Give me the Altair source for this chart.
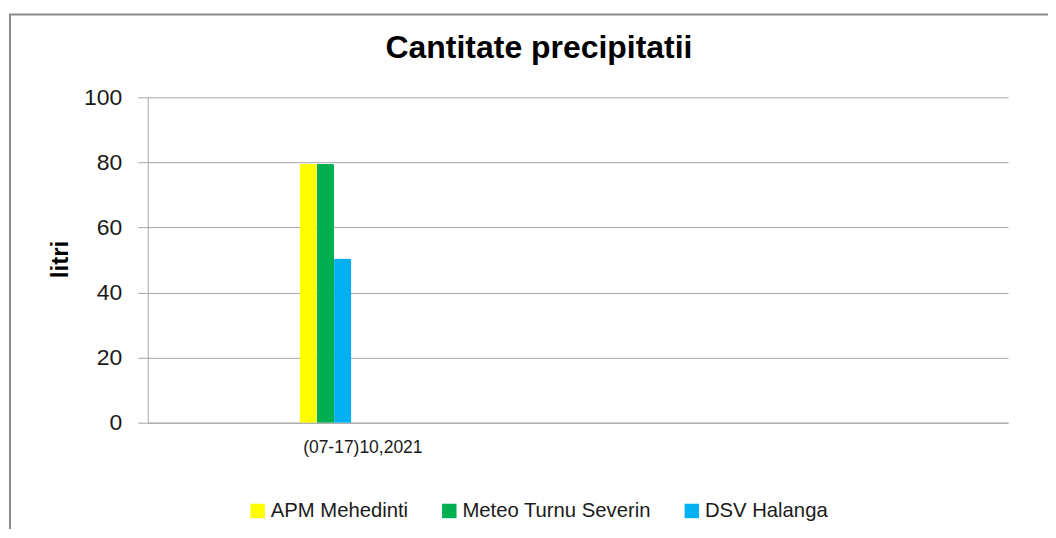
import altair as alt
import pandas as pd

categories = ["(07-17)10,2021", " "]
series = ["APM Mehedinti", "Meteo Turnu Severin", "DSV Halanga"]
values = [79.6, 79.6, 50.5]
colors = ["#FFFF00", "#00B050", "#00B0F0"]

df = pd.DataFrame({
    "perioada": [categories[0]] * len(series),
    "statie": series,
    "litri": values,
})

FONT = "Liberation Sans"

frame = alt.Chart(alt.Data(values=[{"a": 1}])).mark_rect(
    fill=None, stroke="#8c8c8c", strokeWidth=2
).encode(
    x=alt.value(-138), x2=alt.value(1000),
    y=alt.value(-83), y2=alt.value(700),
)

bars = alt.Chart(df).mark_bar(cornerRadiusTopLeft=2, cornerRadiusTopRight=2).encode(
    x=alt.X("perioada:N",
            scale=alt.Scale(domain=categories, paddingInner=0, paddingOuter=0),
            axis=alt.Axis(title=None, labelAngle=0, ticks=False, tickSize=0,
                          labelPadding=16, labelFontSize=17.5, labelFont=FONT,
                          labelColor="#1a1a1a", domainColor="#a6a6a6", grid=False,
                          labelAlign="center")),
    xOffset=alt.XOffset("statie:N",
                        scale=alt.Scale(domain=series, range=[152, 204],
                                        paddingInner=0, paddingOuter=0)),
    y=alt.Y("litri:Q",
            scale=alt.Scale(domain=[0, 100], nice=False),
            axis=alt.Axis(title="litri", values=[0, 20, 40, 60, 80, 100],
                          tickSize=10, tickColor="#a6a6a6", labelPadding=16,
                          labelFontSize=23, labelFont=FONT, labelColor="#1a1a1a",
                          titleFont=FONT, titleFontSize=24, titleFontWeight="bold",
                          titleColor="#000000", titleX=-87, titleY=162,
                          titleAngle=-90, titleAlign="center", titleBaseline="middle",
                          gridColor="#a6a6a6", domainColor="#a6a6a6")),
    color=alt.Color("statie:N",
                    scale=alt.Scale(domain=series, range=colors),
                    legend=alt.Legend(title=None, orient="none", direction="horizontal",
                                      legendX=100, legendY=404, symbolType="square",
                                      symbolSize=210, symbolStrokeWidth=0,
                                      labelFontSize=20.3, labelFont=FONT, labelLimit=400,
                                      labelColor="#1a1a1a", labelOffset=3,
                                      columnPadding=31, padding=0)),
)

chart = alt.layer(frame, bars).properties(
    width=862, height=326,
    autosize=alt.AutoSizeParams(type="none"),
    padding={"left": 140, "top": 89, "right": 40, "bottom": 106},
    title=alt.Title("Cantitate precipitatii", font=FONT, fontSize=32,
                    fontWeight="bold", color="#000000", anchor="middle",
                    dx=-39, dy=52, offset=0),
).configure_view(stroke=None).configure_axis(gridWidth=1)

chart.save("out.html", embed_options={"renderer": "svg", "actions": False})
